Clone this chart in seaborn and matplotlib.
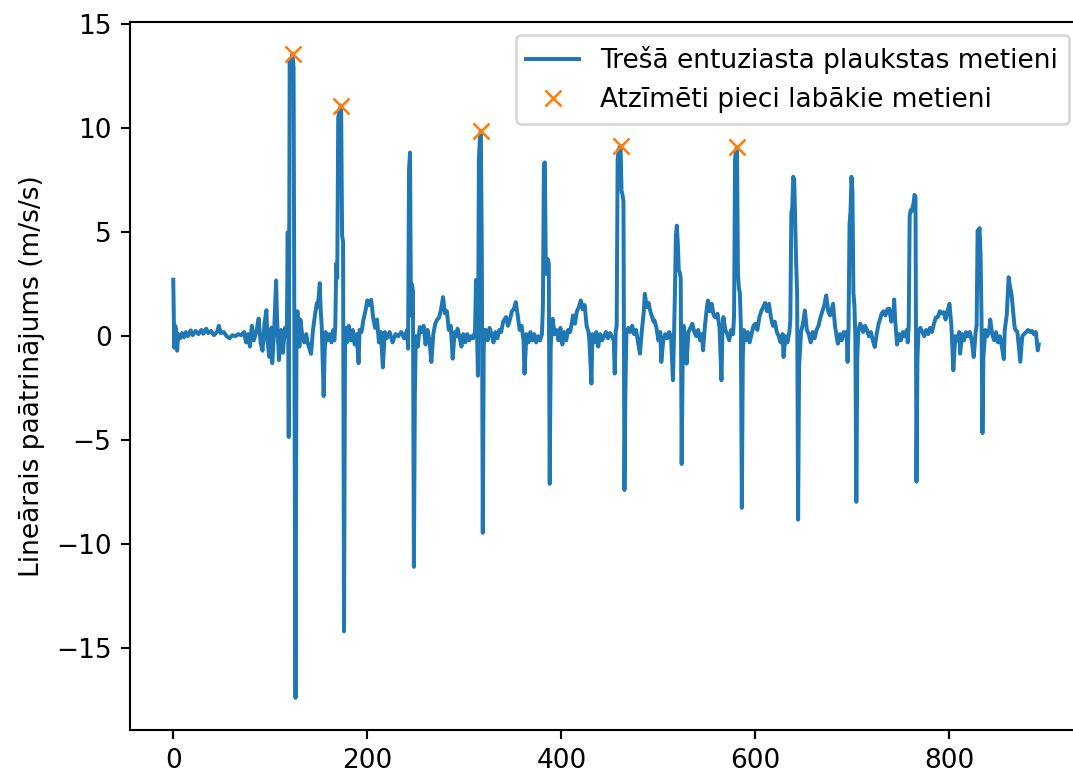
import matplotlib
matplotlib.use("Agg")
import matplotlib.pyplot as plt
import pandas as pd
import seaborn as sns

# Sample index of the accelerometer stream
sample = [
    0, 1, 2, 3, 4, 5, 7, 9, 11, 13, 15, 18, 20, 23, 26, 29, 31, 34, 36, 39,
    42, 45, 47, 49, 52, 55, 58, 61, 64, 67, 70, 73, 75, 77, 79, 81, 83, 86, 88, 90,
    92, 94, 96, 97, 99, 101, 102, 104, 106, 107, 109, 111, 113, 115, 117,
    118, 119, 120, 121, 122, 123, 124, 125, 126, 127, 128, 129, 130, 131, 133, 135,
    137, 139, 142, 144, 146, 148, 149, 151, 152, 153, 155, 156, 157, 159, 161, 163,
    165, 166,
    167, 168, 169, 170, 171, 172, 173, 174, 175, 176, 177, 178, 179, 181, 183, 185,
    187, 189, 191, 192, 194, 196, 198, 200, 202, 204, 206, 208, 210, 212, 214, 216,
    218, 220, 223, 226, 229, 232, 235, 238, 241,
    242, 243, 244, 245, 246, 247, 248, 249, 250, 252, 254, 256, 258, 260, 262, 264,
    266, 268, 270, 272, 274, 276, 278, 280, 282, 284, 286, 288, 290, 292, 293, 295,
    297, 299, 301, 303, 305, 307, 309, 311,
    312, 313, 314, 315, 316, 317, 318, 319, 320, 321, 322, 324, 326, 328, 330, 332,
    334, 336, 338, 340, 343, 345, 347, 349, 351, 353, 355, 357, 359, 361, 362, 364,
    366, 368, 370, 372, 374, 376, 378, 380,
    381, 382, 383, 384, 386, 387, 388, 389, 391, 393, 395, 397, 399, 401, 403, 405,
    407, 409, 411, 412, 414, 416, 418, 420, 422, 424, 426, 428, 429, 431, 432, 434,
    436, 438, 440, 442, 444, 446, 448, 450, 452, 454, 455, 456,
    457, 458, 459, 460, 461, 462, 463, 464, 465, 466, 467, 469, 471, 473, 475, 477,
    479, 481, 483, 485, 486, 488, 490, 491, 493, 495, 496, 498, 500, 502, 503, 505,
    507, 509, 511, 513, 515, 516,
    517, 518, 519, 520, 521, 522, 523, 524, 525, 526, 528, 529, 531, 533, 535, 537,
    539, 541, 543, 545, 546, 548, 550, 551, 553, 555, 557, 559, 561, 563, 565, 566,
    567, 569, 571, 573, 575, 577,
    578, 579, 580, 581, 582, 583, 584, 585, 586, 587, 588, 590, 592, 594, 596, 598,
    600, 602, 604, 606, 608, 610, 612, 614, 616, 618, 620, 622, 624, 626, 628, 629,
    631, 633, 635,
    636, 637, 638, 639, 640, 641, 642, 643, 644, 645, 647, 649, 651, 653, 655, 657,
    659, 661, 663, 665, 667, 669, 671, 673, 675, 677, 680, 682, 685, 687, 689, 691,
    693, 694, 695,
    696, 697, 698, 699, 700, 701, 702, 703, 704, 705, 706, 708, 710, 711, 713, 715,
    717, 719, 721, 723, 725, 727, 729, 730, 732, 734, 736, 738, 740, 742, 743, 744,
    746, 748, 750, 752, 754, 756, 757,
    758, 759, 760, 761, 762, 763, 764, 765, 766, 767, 768, 770, 772, 774, 776, 778,
    780, 782, 784, 786, 788, 790, 792, 794, 796, 798, 800, 802, 804, 806, 808, 810,
    811, 813, 815, 817, 819, 821, 823, 825, 827, 828,
    829, 830, 831, 832, 833, 834, 835, 837, 839, 841, 842, 844, 846, 848, 850, 852,
    854, 856, 857, 859, 861, 862, 864, 865, 867, 868, 870, 873, 875, 877, 879, 881,
    883, 885, 887, 889, 891, 892,
]

# Linear acceleration, m/s/s
accel = [
    2.72, -0.55, 0.5, 0.3, -0.7, 0.1, -0.1, 0.15, -0.05, 0.2, 0.0, 0.28, 0.05, 0.25, 0.1, 0.3, 0.12, 0.36, 0.15, 0.25,
    0.05, 0.2, 0.5, 0.15, 0.2, 0.0, -0.1, 0.05, 0.0, 0.1, 0.05, 0.2, -0.3, 0.1, -0.5, 0.5, -0.2, 0.3, 0.85, -0.3,
    -0.7, 0.6, 1.25, -0.2, -1.0, 0.4, -1.3, 0.3, 2.68, 0.8, -1.15, 0.3, -0.8, 0.4, 0.0,
    5.0, -4.85, 13.2, 12.6, 13.4, 13.57, 12.9, -3.2, -17.4, 0.4, 1.2, 0.3, -0.5, 0.8, 0.0, -0.3,
    0.1, -0.4, -0.85, 0.3, 1.0, 1.6, 1.4, 2.55, 1.2, 0.5, -2.88, -0.8, 0.2, -0.2, 0.1, -0.3,
    0.3, -0.2,
    0.5, 3.5, 2.8, 10.5, 10.8, 11.0, 11.1, 4.9, 4.5, -14.2, -0.5, 0.4, -0.3, 0.5, -0.2, 0.3,
    -0.4, 0.1, -1.3, 0.3, 0.2, 0.8, 1.2, 1.72, 1.5, 1.75, 0.9, 0.4, 0.8, -0.3, 0.2, -1.5,
    0.2, -0.1, 0.2, -0.3, 0.1, 0.0, 0.2, -0.1, 0.3,
    -0.6, 8.0, 8.84, 1.0, 2.5, 2.2, -11.1, -2.8, 0.0, -0.5, 0.44, 0.2, 0.5, -0.4, 0.3, -0.2,
    -1.24, 0.1, 0.6, 0.8, 0.9, 1.3, 1.88, 1.1, 1.2, 0.3, 0.5, -1.08, 0.2, 0.0, 0.36, 0.0,
    -0.5, 0.1, -0.3, 0.1, -0.2, 0.0, -0.1, 0.2,
    2.7, 0.4, -1.9, 8.5, 9.5, 9.88, 4.1, -9.46, -0.5, 0.3, 0.3, -0.2, 0.4, 0.1, -0.3, 0.2,
    -0.1, 0.3, 0.2, 0.7, 0.92, 0.5, 0.8, 1.2, 1.3, 1.64, 1.0, 0.3, 0.5, -0.2, -1.8, 0.1,
    -0.3, 0.2, -0.2, 0.1, -0.3, 0.0, -0.2, 0.1,
    1.5, 8.3, 8.36, 3.0, 3.7, 3.5, -7.1, -0.5, 0.84, 0.1, 0.3, -0.2, 0.4, -0.4, 0.2, -0.2,
    0.3, 0.2, 0.7, 1.0, 0.6, 1.2, 1.4, 1.72, 1.3, 1.5, 0.5, 0.2, -0.3, -2.28, 0.1, -0.3,
    0.2, -0.5, 0.1, -0.2, 0.0, 0.2, -0.1, 0.15, 0.0, -0.2, -1.8, 0.2,
    0.5, 8.5, 9.0, 8.8, 9.16, 7.0, 6.8, 6.5, -7.4, -2.6, 0.1, 0.4, 0.2, 0.5, 0.1, 0.3,
    -0.3, -0.84, 0.3, 1.2, 2.04, 1.4, 1.6, 1.32, 1.0, 0.7, 0.76, 0.4, -0.2, 0.2, -1.24, -0.2,
    0.1, -0.1, 0.2, 0.0, -2.12, -0.2,
    2.0, 4.8, 5.32, 4.5, 3.2, 3.07, 2.8, -6.15, -1.3, 0.5, -0.3, -1.32, 0.2, 0.4, 0.6, 0.2,
    0.0, 0.3, -0.2, 0.1, -0.68, 0.5, 1.4, 1.72, 1.2, 1.56, 1.0, 0.9, 1.08, 0.4, -2.12, 0.2,
    0.92, 0.3, 0.1, -0.2, 0.3, 0.1,
    1.0, 8.5, 8.9, 9.1, 3.0, 2.3, 2.06, 0.5, -8.26, -1.0, 0.3, -0.2, 0.2, -0.3, 0.1, 0.5,
    0.6, 0.3, 0.9, 1.2, 1.4, 1.6, 1.2, 1.56, 0.9, 0.5, 0.7, 0.2, 0.0, -0.3, 0.1, -1.0,
    0.0, -0.3, 0.2,
    0.8, 5.9, 6.2, 7.67, 7.5, 5.5, 3.5, 2.0, -8.83, -1.5, 0.2, 0.6, 1.24, 0.3, 0.1, -0.3,
    0.2, -0.1, 0.3, 0.5, 0.9, 1.2, 1.5, 1.96, 1.2, 1.0, 1.56, 0.5, -0.36, 0.1, -0.2, 0.2,
    0.0, 0.2, -1.24,
    0.5, 5.4, 6.0, 7.67, 7.0, 2.1, 1.5, 0.0, -7.97, -1.0, 0.2, 0.6, 0.4, 0.2, 0.5, 0.3,
    0.0, 0.2, -0.2, -0.52, 0.1, 0.6, 0.9, 1.08, 1.2, 1.0, 1.3, 1.32, 0.7, 1.0, 1.77, 0.8,
    -0.4, 0.1, -0.2, 0.2, 0.0, 0.3, -0.3,
    0.5, 5.8, 6.06, 6.0, 6.2, 6.4, 6.8, 6.7, -7.0, -1.1, 0.2, 0.4, 0.2, 0.0, 0.3, 0.1,
    0.4, 0.2, 0.6, 0.9, 0.92, 1.2, 1.1, 1.16, 0.8, 1.2, 1.56, 0.5, -1.64, 0.0, -0.2, 0.2,
    -0.84, 0.1, -0.2, 0.2, 0.0, 0.2, -0.2, -1.0, 0.2, 0.5,
    5.08, 5.0, 5.2, 4.0, 1.0, -4.66, -1.0, 0.3, 0.0, 0.3, 0.8, 0.1, -0.2, 0.2, -0.3, 0.0,
    -0.5, -1.1, 0.3, 1.0, 2.84, 2.5, 2.0, 1.5, 0.5, 0.3, 0.2, -1.23, 0.0, 0.1, 0.2, 0.3,
    0.2, 0.25, 0.1, 0.2, -0.68, -0.4,
]

# Samples of the five strongest throws
best_throws = [123, 173, 317, 461, 581]

LINE_LABEL = "Trešā entuziasta plaukstas metieni"
PEAK_LABEL = "Atzīmēti pieci labākie metieni"
Y_LABEL = "Lineārais paātrinājums (m/s/s)"

df = pd.DataFrame({"sample": sample, "accel": accel})
peaks = df.set_index("sample").loc[best_throws].reset_index()

DPI = 190
W, H = 1073, 776
fig = plt.figure(figsize=(W / DPI, H / DPI), dpi=DPI)
ax = fig.add_axes([130 / W, 46 / H, 952 / W, 708 / H])

sns.lineplot(data=df, x="sample", y="accel", ax=ax, color="#1f77b4",
             linewidth=1.5, estimator=None, sort=False, label=LINE_LABEL)
sns.lineplot(data=peaks, x="sample", y="accel", ax=ax, color="#ff7f0e",
             marker="x", linestyle="", markersize=6, markeredgewidth=1.0,
             markeredgecolor="#ff7f0e", estimator=None, sort=False,
             label=PEAK_LABEL)

ax.set_xlabel("")
ax.set_ylabel(Y_LABEL)
ax.legend(loc="upper right")

fig.savefig("out.png", dpi=DPI)
